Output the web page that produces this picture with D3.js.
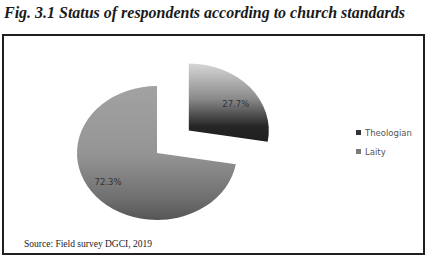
<!DOCTYPE html>
<html>
<head>
<meta charset="utf-8">
<script src="https://cdn.jsdelivr.net/npm/d3@7"></script>
<style>
  body { margin: 0; background: #fff; }
  svg { display: block; }
</style>
</head>
<body>
<div id="chart"></div>
<script>
// chart data
const categories = ['Theologian', 'Laity'];
const shares = [27.7, 72.3];
const sliceLabels = ['27.7%', '72.3%'];
const exploded = [true, false];

const width = 437, height = 256;
const svg = d3.select('#chart').append('svg')
    .attr('width', width)
    .attr('height', height);

// title
svg.append('text')
    .attr('x', 4).attr('y', 18)
    .attr('font-family', 'Liberation Serif, serif')
    .attr('font-style', 'italic')
    .attr('font-weight', 'bold')
    .attr('font-size', 16)
    .attr('fill', '#1a1a1a')
    .attr('textLength', 401)
    .attr('lengthAdjust', 'spacingAndGlyphs')
    .text('Fig. 3.1 Status of respondents according to church standards');

// frame
svg.append('rect')
    .attr('x', 3).attr('y', 35)
    .attr('width', 421).attr('height', 219)
    .attr('fill', 'none')
    .attr('stroke', '#231f20')
    .attr('stroke-width', 2);

// gradients for slices
const defs = svg.append('defs');
const gradStops = [
    [['#d6d6d6', 0], ['#8a8a8a', 0.45], ['#262626', 0.8], ['#1e1e1e', 1]],
    [['#a2a2a2', 0], ['#959595', 0.5], ['#6e6e6e', 0.85], ['#555555', 1]]
];
gradStops.forEach((stops, i) => {
    const g = defs.append('linearGradient')
        .attr('id', 'grad' + i)
        .attr('x1', 0).attr('y1', 0).attr('x2', 0).attr('y2', 1);
    stops.forEach(s => g.append('stop').attr('offset', s[1]).attr('stop-color', s[0]));
});

// pie
const R = 80;
const cx = 157, cy = 153;
const yScale = 67 / 80;
const pie = d3.pie().sort(null).value(d => d)(shares);
const arc = d3.arc().innerRadius(0).outerRadius(R);
const labelArc = d3.arc().innerRadius(R * 0.62).outerRadius(R * 0.62);
const labelNudge = [[9, 0], [-11, 3]];

const pieG = svg.append('g')
    .attr('transform', `translate(${cx},${cy}) scale(1,${yScale})`);

pie.forEach((d, i) => {
    const mid = (d.startAngle + d.endAngle) / 2;
    const off = exploded[i] ? R * 0.52 : 0;
    const g = pieG.append('g')
        .attr('transform', `translate(${off * Math.sin(mid)},${-off * Math.cos(mid)})`);
    g.append('path')
        .attr('d', arc(d))
        .attr('fill', `url(#grad${i})`);
    const c = labelArc.centroid(d);
    g.append('text')
        .attr('transform', `translate(${c[0] + labelNudge[i][0]},${c[1] + labelNudge[i][1]}) scale(1,${1 / yScale})`)
        .attr('text-anchor', 'middle')
        .attr('dy', '0.35em')
        .attr('font-family', 'DejaVu Sans, sans-serif')
        .attr('font-size', 8.5)
        .attr('fill', '#333')
        .text(sliceLabels[i]);
});

// legend
const legendColors = ['#333333', '#7a7a7a'];
const legend = svg.append('g').attr('transform', 'translate(356,133)');
categories.forEach((c, i) => {
    const row = legend.append('g').attr('transform', `translate(0,${i * 19})`);
    row.append('rect')
        .attr('x', 0).attr('y', -3)
        .attr('width', 5).attr('height', 5)
        .attr('fill', legendColors[i]);
    row.append('text')
        .attr('x', 9).attr('y', 0)
        .attr('dy', '0.35em')
        .attr('font-family', 'DejaVu Sans, sans-serif')
        .attr('font-size', 8.5)
        .attr('fill', '#555')
        .text(c);
});

// source
svg.append('text')
    .attr('x', 24).attr('y', 247)
    .attr('font-family', 'Liberation Serif, serif')
    .attr('font-size', 9.5)
    .attr('fill', '#1a1a1a')
    .text('Source: Field survey DGCI, 2019');
</script>
</body>
</html>
